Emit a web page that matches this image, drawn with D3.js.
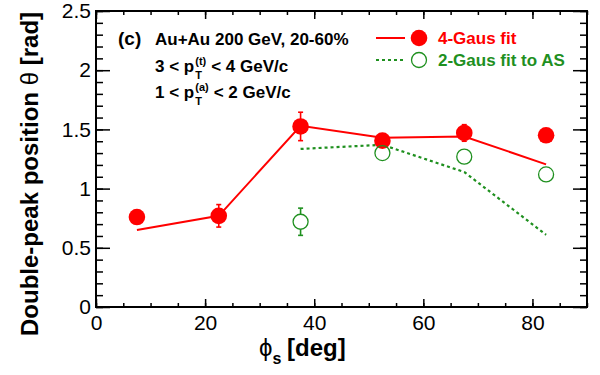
<!DOCTYPE html>
<html>
<head>
<meta charset="utf-8">
<script src="https://cdn.jsdelivr.net/npm/d3@7"></script>
<style>
body { margin:0; background:#fff; }
svg text { font-family: "Liberation Sans", Arial, Helvetica, sans-serif; }
</style>
</head>
<body>
<div id="chart"></div>
<script>
// phi_s bins (deg)
var phiS = [7.5, 22.5, 37.5, 52.5, 67.5, 82.5];
// 4-Gaus fit (filled red)
var gaus4 = [0.76, 0.77, 1.525, 1.405, 1.47, 1.45];
var gaus4Err = [0.02, 0.095, 0.12, 0.03, 0.07, 0.02];
var gaus4Line = [0.65, 0.77, 1.53, 1.43, 1.44, 1.205];
// 2-Gaus fit to AS (open green), no value in first two bins
var phiAS = [37.5, 52.5, 67.5, 82.5];
var gaus2 = [0.72, 1.30, 1.27, 1.12];
var gaus2Err = [0.115, 0.03, 0.03, 0.03];
var gaus2Line = [1.335, 1.37, 1.14, 0.61];

var xTicks = [0, 20, 40, 60, 80];
var yTicks = [0, 0.5, 1, 1.5, 2, 2.5];

var w = 600, h = 375;
var red = "#ff0000", green = "#1f901f";

var svg = d3.select("#chart").append("svg")
	.attr("width", w)
	.attr("height", h);

var x = d3.scaleLinear().domain([0, 90]).range([96, 587]);
var y = d3.scaleLinear().domain([0, 2.5]).range([307, 11]);

var xMinor = d3.range(0, 90.1, 5);
var yMinor = d3.range(0, 2.501, 0.1);

// axes, ticks pointing inward like ROOT
function fmt(d) { return d3.format("")(+d.toFixed(1)); }

svg.append("g").attr("transform", "translate(0,307)")
	.call(d3.axisBottom(x).tickValues(xMinor).tickSize(-4).tickFormat(""));
svg.append("g").attr("transform", "translate(0,307)")
	.call(d3.axisBottom(x).tickValues(xTicks).tickSize(-8).tickPadding(8).tickFormat(fmt))
	.attr("class", "lab");
svg.append("g").attr("transform", "translate(0,11)")
	.call(d3.axisTop(x).tickValues(xMinor).tickSize(-4).tickFormat(""));
svg.append("g").attr("transform", "translate(0,11)")
	.call(d3.axisTop(x).tickValues(xTicks).tickSize(-8).tickFormat(""));

svg.append("g").attr("transform", "translate(96,0)")
	.call(d3.axisLeft(y).tickValues(yMinor).tickSize(-7).tickFormat(""));
svg.append("g").attr("transform", "translate(96,0)")
	.call(d3.axisLeft(y).tickValues(yTicks).tickSize(-14).tickPadding(5).tickFormat(fmt))
	.attr("class", "lab");
svg.append("g").attr("transform", "translate(587,0)")
	.call(d3.axisRight(y).tickValues(yMinor).tickSize(-7).tickFormat(""));
svg.append("g").attr("transform", "translate(587,0)")
	.call(d3.axisRight(y).tickValues(yTicks).tickSize(-14).tickFormat(""));

svg.selectAll(".domain").remove();
svg.selectAll(".tick line").attr("stroke", "#000").attr("stroke-width", 1.5);
svg.selectAll(".lab text")
	.style("font-size", "21px")
	.attr("fill", "#000");

svg.append("rect")
	.attr("x", 96).attr("y", 11)
	.attr("width", 587 - 96).attr("height", 307 - 11)
	.attr("fill", "none").attr("stroke", "#000").attr("stroke-width", 2);

// lines
var line = d3.line().x(function(d){ return x(d[0]); }).y(function(d){ return y(d[1]); });

svg.append("path")
	.datum(d3.zip(phiS, gaus4Line))
	.attr("d", line)
	.attr("fill", "none").attr("stroke", red).attr("stroke-width", 2);

svg.append("path")
	.datum(d3.zip(phiAS, gaus2Line))
	.attr("d", line)
	.attr("fill", "none").attr("stroke", green).attr("stroke-width", 2.2)
	.attr("stroke-dasharray", "3,3");

// error bars with caps, only the part outside the marker (ROOT style)
function errBars(xs, ys, es, col, r) {
	var g = svg.append("g").attr("stroke", col).attr("stroke-width", 1.6);
	xs.forEach(function(xv, i) {
		var cx = x(xv), cy = y(ys[i]), y1 = y(ys[i] + es[i]), y2 = y(ys[i] - es[i]);
		if (cy - y1 <= r) return;
		g.append("line").attr("x1", cx).attr("x2", cx).attr("y1", y1).attr("y2", cy - r);
		g.append("line").attr("x1", cx).attr("x2", cx).attr("y1", cy + r).attr("y2", y2);
		g.append("line").attr("x1", cx - 2.5).attr("x2", cx + 2.5).attr("y1", y1).attr("y2", y1);
		g.append("line").attr("x1", cx - 2.5).attr("x2", cx + 2.5).attr("y1", y2).attr("y2", y2);
	});
}
errBars(phiS, gaus4, gaus4Err, red, 7);
errBars(phiAS, gaus2, gaus2Err, green, 7.5);

svg.selectAll("circle.g4")
	.data(d3.zip(phiS, gaus4))
	.enter().append("circle")
	.attr("class", "g4")
	.attr("cx", function(d){ return x(d[0]); })
	.attr("cy", function(d){ return y(d[1]); })
	.attr("r", 8.3)
	.attr("fill", red);

svg.selectAll("circle.g2")
	.data(d3.zip(phiAS, gaus2))
	.enter().append("circle")
	.attr("class", "g2")
	.attr("cx", function(d){ return x(d[0]); })
	.attr("cy", function(d){ return y(d[1]); })
	.attr("r", 7.5)
	.attr("fill", "none")
	.attr("stroke", green).attr("stroke-width", 1.3);

// legend
svg.append("line").attr("x1", 376).attr("x2", 405).attr("y1", 38).attr("y2", 38)
	.attr("stroke", red).attr("stroke-width", 2);
svg.append("circle").attr("cx", 419).attr("cy", 38).attr("r", 8.3).attr("fill", red);
svg.append("text").attr("x", 438).attr("y", 44).text("4-Gaus fit")
	.style("font-size", "17px").style("font-weight", "bold").attr("fill", red);

svg.append("line").attr("x1", 376).attr("x2", 405).attr("y1", 60).attr("y2", 60)
	.attr("stroke", green).attr("stroke-width", 2.2).attr("stroke-dasharray", "3,3");
svg.append("circle").attr("cx", 419).attr("cy", 60).attr("r", 7.5)
	.attr("fill", "none").attr("stroke", green).attr("stroke-width", 1.3);
svg.append("text").attr("x", 438).attr("y", 66).text("2-Gaus fit to AS")
	.style("font-size", "17px").style("font-weight", "bold").attr("fill", green);

// annotations
svg.append("text").attr("x", 118).attr("y", 45).text("(c)")
	.style("font-size", "19px").style("font-weight", "bold");
svg.append("text").attr("x", 155).attr("y", 45).text("Au+Au 200 GeV, 20-60%")
	.style("font-size", "17px").style("font-weight", "bold");

function ptLine(yb, pre, sup, post) {
	var g = svg.append("g").style("font-weight", "bold");
	var t1 = g.append("text").attr("x", 155).attr("y", yb).text(pre).style("font-size", "17px");
	var x1 = 155 + t1.node().getComputedTextLength() + 1;
	var tT = g.append("text").attr("x", x1).attr("y", yb + 6.5).text("T").style("font-size", "11px");
	var tS = g.append("text").attr("x", x1).attr("y", yb - 7).text(sup).style("font-size", "11px");
	var x2 = x1 + Math.max(tT.node().getComputedTextLength(), tS.node().getComputedTextLength()) + 5;
	g.append("text").attr("x", x2).attr("y", yb).text(post).style("font-size", "17px");
}
ptLine(72, "3 < p", "(t)", "< 4 GeV/c");
ptLine(98, "1 < p", "(a)", "< 2 GeV/c");

// axis titles
var yt = svg.append("text")
	.attr("transform", "translate(38,336) rotate(-90)")
	.style("font-size", "24px").style("font-weight", "bold");
yt.append("tspan").text("Double-peak position ");
yt.append("tspan").text("\u03b8").style("font-weight", "normal");
yt.append("tspan").text(" [rad]");

var xt = svg.append("text").attr("x", 259).attr("y", 356)
	.style("font-size", "24px");
xt.append("tspan").text("\u03d5");
xt.append("tspan").text("s").attr("dy", 8).style("font-size", "16px").style("font-weight", "bold");
xt.append("tspan").text("[deg]").attr("x", 287).attr("dy", -8).style("font-weight", "bold");
</script>
</body>
</html>
